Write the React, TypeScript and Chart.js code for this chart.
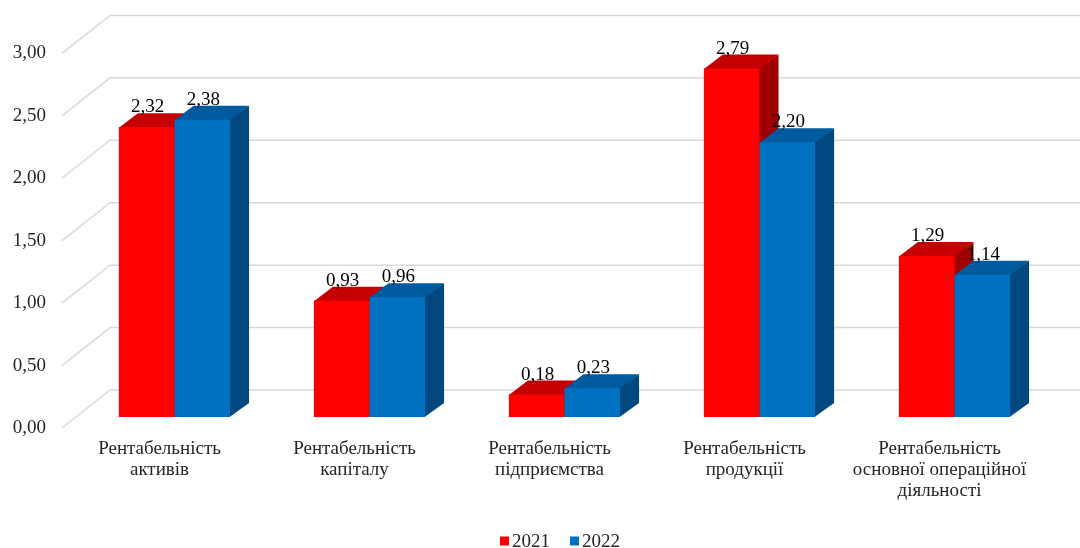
import React, { useEffect, useRef } from "react";
import { Chart, registerables } from "chart.js";

Chart.register(...registerables);

// Category labels (multi-line), series and values
const categories: string[][] = [
  ["Рентабельність", "активів"],
  ["Рентабельність", "капіталу"],
  ["Рентабельність", "підприємства"],
  ["Рентабельність", "продукції"],
  ["Рентабельність", "основної операційної", "діяльності"],
];
const seriesNames = ["2021", "2022"];
const values2021 = [2.32, 0.93, 0.18, 2.79, 1.29];
const values2022 = [2.38, 0.96, 0.23, 2.2, 1.14];
const yMin = 0;
const yMax = 3;
const yStep = 0.5;

// Face shading for the extruded columns: front, top, side
const shades = [
  { front: "#FF0000", top: "#C40000", side: "#A00000" },
  { front: "#0070C0", top: "#005A9E", side: "#00487F" },
];

// Depth of the columns and of the back wall (in pixels)
const BAR_DX = 19;
const BAR_DY = 14;
const FRONT_DX = -15;
const FRONT_DY = 11;
const BACK_DX = 33;
const BACK_DY = 27;

const FONT = "'Liberation Serif', 'Times New Roman', serif";
const FONT_SIZE = 19;
const TEXT = "#262626";

const fmt = (v: number) => v.toFixed(2).replace(".", ",");

const wallGrid = {
  id: "wallGrid",
  beforeDatasetsDraw(chart: any) {
    const { ctx, chartArea } = chart;
    const yScale = chart.scales.y;
    ctx.save();
    ctx.strokeStyle = "#D9D9D9";
    ctx.lineWidth = 1.5;
    yScale.ticks.forEach((t: any) => {
      const py = yScale.getPixelForValue(t.value);
      ctx.beginPath();
      ctx.moveTo(chartArea.left + FRONT_DX, py + FRONT_DY);
      ctx.lineTo(chartArea.left + BACK_DX, py - BACK_DY);
      ctx.lineTo(chart.width, py - BACK_DY);
      ctx.stroke();
    });
    ctx.restore();
  },
};

const columns3d = {
  id: "columns3d",
  afterDatasetsDraw(chart: any) {
    const { ctx } = chart;
    const metas = chart.data.datasets.map((_: any, i: number) => chart.getDatasetMeta(i));
    const n = chart.data.labels.length;
    ctx.save();
    for (let i = 0; i < n; i++) {
      metas.forEach((meta: any, d: number) => {
        const el = meta.data[i];
        const { x, y, base, width } = el.getProps(["x", "y", "base", "width"], true);
        const l = x - width / 2;
        const r = x + width / 2;
        const s = shades[d];
        // top face
        ctx.fillStyle = s.top;
        ctx.beginPath();
        ctx.moveTo(l, y + 0.5);
        ctx.lineTo(l + BAR_DX, y - BAR_DY);
        ctx.lineTo(r + BAR_DX, y - BAR_DY);
        ctx.lineTo(r, y + 0.5);
        ctx.closePath();
        ctx.fill();
        // side face
        ctx.fillStyle = s.side;
        ctx.beginPath();
        ctx.moveTo(r - 0.5, y);
        ctx.lineTo(r + BAR_DX, y - BAR_DY);
        ctx.lineTo(r + BAR_DX, base - BAR_DY);
        ctx.lineTo(r - 0.5, base);
        ctx.closePath();
        ctx.fill();
        // front face
        ctx.fillStyle = s.front;
        ctx.fillRect(l, y, width, base - y);
      });
    }
    // value labels
    ctx.fillStyle = "#000000";
    ctx.font = `${FONT_SIZE}px ${FONT}`;
    ctx.textAlign = "center";
    ctx.textBaseline = "middle";
    metas.forEach((meta: any, d: number) => {
      meta.data.forEach((el: any, i: number) => {
        const v = chart.data.datasets[d].data[i];
        ctx.fillText(fmt(v), el.x + 1, el.y - 20);
      });
    });
    ctx.restore();
  },
};

const bottomLegend = {
  id: "bottomLegend",
  afterDraw(chart: any) {
    const { ctx } = chart;
    ctx.save();
    ctx.font = `${FONT_SIZE}px ${FONT}`;
    ctx.textBaseline = "middle";
    ctx.textAlign = "left";
    const box = 9;
    const gap = 3;
    const spacing = 20;
    const items = chart.data.datasets.map((ds: any) => ({
      label: ds.label,
      color: ds.backgroundColor,
      w: box + gap + ctx.measureText(ds.label).width,
    }));
    const total = items.reduce((a: number, it: any) => a + it.w, 0) + spacing * (items.length - 1);
    let x = 560 - total / 2;
    const cy = 541;
    items.forEach((it: any) => {
      ctx.fillStyle = it.color;
      ctx.fillRect(x, cy - box / 2, box, box);
      ctx.fillStyle = TEXT;
      ctx.fillText(it.label, x + box + gap, cy + 1);
      x += it.w + spacing;
    });
    ctx.restore();
  },
};

export default function App() {
  const canvasRef = useRef<HTMLCanvasElement | null>(null);

  useEffect(() => {
    if (!canvasRef.current) return;
    const chart = new Chart(canvasRef.current, {
      type: "bar",
      data: {
        labels: categories,
        datasets: [
          { label: seriesNames[0], data: values2021, backgroundColor: shades[0].front },
          { label: seriesNames[1], data: values2022, backgroundColor: shades[1].front },
        ],
      },
      options: {
        animation: false,
        responsive: true,
        maintainAspectRatio: false,
        layout: { padding: { left: 0, right: 28, top: 39, bottom: 0 } },
        datasets: {
          bar: { barPercentage: 1, categoryPercentage: 0.57 },
        },
        plugins: {
          legend: { display: false },
          tooltip: { enabled: false },
        },
        scales: {
          x: {
            grid: { display: false, drawTicks: false },
            border: { display: false },
            ticks: {
              color: TEXT,
              font: { family: FONT, size: FONT_SIZE, lineHeight: "21px" },
              padding: 22,
              labelOffset: FRONT_DX,
              maxRotation: 0,
              autoSkip: false,
            },
            afterFit: (s: any) => {
              s.height = 131;
            },
          },
          y: {
            min: yMin,
            max: yMax,
            grid: { display: false, drawTicks: false },
            border: { display: false },
            ticks: {
              stepSize: yStep,
              color: TEXT,
              font: { family: FONT, size: FONT_SIZE },
              padding: 31,
              labelOffset: FRONT_DY,
              callback: (v: any) => fmt(Number(v)),
            },
            afterFit: (s: any) => {
              s.width = 77;
            },
          },
        },
      },
      plugins: [wallGrid, columns3d, bottomLegend],
    });
    return () => chart.destroy();
  }, []);

  return (
    <div style={{ position: "absolute", left: 0, top: 0, width: 1080, height: 548, background: "#FFFFFF" }}>
      <canvas ref={canvasRef} />
    </div>
  );
}
